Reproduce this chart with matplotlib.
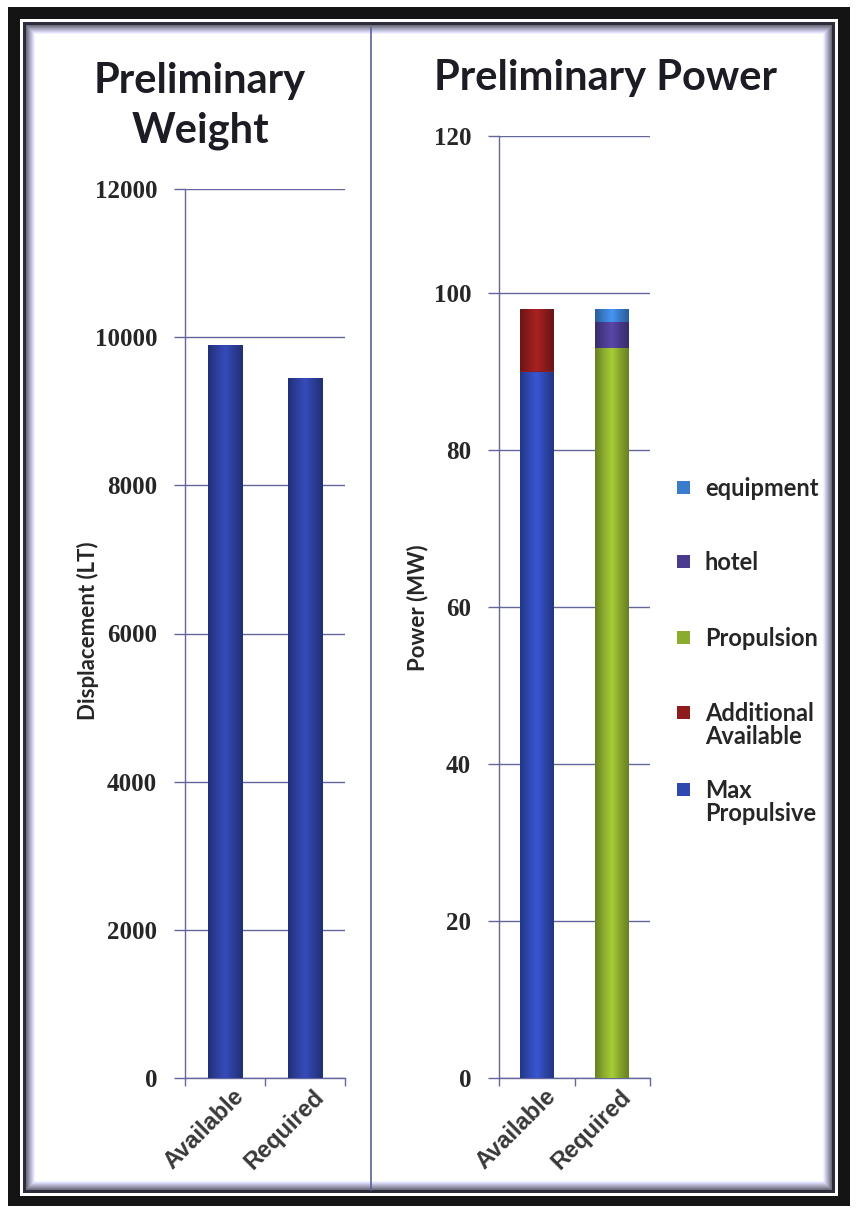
import matplotlib.pyplot as plt
import numpy as np
from matplotlib.colors import LinearSegmentedColormap, to_rgb
from matplotlib.patches import Rectangle
from matplotlib.transforms import ScaledTranslation

W, H = 856, 1211

categories = ["Available", "Required"]

# displacement (LT)
weight = [9890, 9450]

# power stack (MW), bottom to top
max_propulsive = [90.0, 0.0]
additional_available = [8.0, 0.0]
propulsion = [0.0, 93.0]
hotel = [0.0, 3.3]
equipment = [0.0, 1.7]

weight_ticks = [0, 2000, 4000, 6000, 8000, 10000, 12000]
power_ticks = [0, 20, 40, 60, 80, 100, 120]

C_WEIGHT = "#2d3f9c"
C_MAXPROP = "#2f48b0"
C_ADDL = "#8e1c1c"
C_PROP = "#8bab2e"
C_HOTEL = "#4b3b8e"
C_EQUIP = "#3a7ccc"
C_AXIS = "#62669a"
C_TEXT = "#262626"

TITLE_FONT = ["Lato", "DejaVu Sans"]
LABEL_FONT = ["Lato", "DejaVu Sans"]
CAT_FONT = ["Liberation Sans", "DejaVu Sans"]
TICK_FONT = ["Liberation Serif", "DejaVu Serif"]


def px_rect(x0, y0, x1, y1):
    return [x0 / W, 1 - y1 / H, (x1 - x0) / W, (y1 - y0) / H]


def fig_box(fig, x0, y0, x1, y1, **kw):
    fig.add_artist(Rectangle((x0 / W, 1 - y1 / H), (x1 - x0) / W, (y1 - y0) / H,
                             transform=fig.transFigure, **kw))


def shade(ax, bars, color):
    # horizontal cylinder-style gradient clipped to each bar
    base = np.array(to_rgb(color))
    cmap = LinearSegmentedColormap.from_list(
        "cyl", [base * 0.75, base * 1.0, np.minimum(base * 1.2, 1), base * 0.95, base * 0.75])
    grad = np.linspace(0, 1, 64).reshape(1, -1)
    for patch in bars:
        if patch.get_height() <= 0:
            continue
        x, y = patch.get_x(), patch.get_y()
        im = ax.imshow(grad, cmap=cmap, aspect="auto", zorder=patch.get_zorder() + 0.1,
                       extent=(x, x + patch.get_width(), y, y + patch.get_height()))
        im.set_clip_path(patch)


def style_axes(fig, ax, ticks):
    ax.patch.set_visible(False)
    ax.set_ylim(ticks[0], ticks[-1])
    ax.set_yticks(ticks)
    ax.set_yticklabels([str(t) for t in ticks], family=TICK_FONT, fontweight="bold",
                       fontsize=18, color=C_TEXT)
    ax.yaxis.grid(True, color=C_AXIS, linewidth=1.0)
    ax.set_axisbelow(True)
    ax.tick_params(axis="y", length=8, width=1.0, color=C_AXIS, pad=12)
    ax.set_xticks([0, 1])
    ax.set_xticks([-0.5, 0.5, 1.5], minor=True)
    ax.tick_params(axis="x", which="major", length=0, pad=5)
    ax.tick_params(axis="x", which="minor", length=6, width=1.0, color=C_AXIS)
    ax.set_xticklabels(categories, rotation=45, ha="right", va="top", rotation_mode="anchor",
                       family=CAT_FONT, fontweight="bold", fontsize=17, color="#383838")
    shift = ScaledTranslation(7 / 100, 0, fig.dpi_scale_trans)
    for lbl in ax.get_xticklabels():
        lbl.set_transform(lbl.get_transform() + shift)
    for side in ("top", "right"):
        ax.spines[side].set_visible(False)
    for side in ("left", "bottom"):
        ax.spines[side].set_color(C_AXIS)
        ax.spines[side].set_linewidth(1.0)
    ax.set_xlim(-0.5, 1.5)


fig = plt.figure(figsize=(W / 100, H / 100), dpi=100, facecolor="white")

# framed panel behind both charts
fig_box(fig, 8, 7, 850, 1206, facecolor="#141414", edgecolor="none", zorder=-5)
fig_box(fig, 20, 19, 838, 1196, facecolor="white", edgecolor="none", zorder=-5)
fig_box(fig, 23, 22, 835, 1193, facecolor="#2c2c3c", edgecolor="none", zorder=-5)
for i, level in enumerate(np.linspace(0.45, 1.0, 9)):
    c = (level * 0.95, level * 0.95, min(level * 1.08, 1.0))
    fig_box(fig, 26 + i, 25 + i, 832 - i, 1190 - i, facecolor=c, edgecolor="none", zorder=-5)
fig_box(fig, 35, 34, 823, 1181, facecolor="white", edgecolor="none", zorder=-5)
fig.add_artist(plt.Line2D([371 / W, 371 / W], [1 - 1190 / H, 1 - 28 / H],
                          transform=fig.transFigure, color="#5c6094", linewidth=1.2,
                          zorder=-4))

# weight chart
ax1 = fig.add_axes(px_rect(185, 189, 345, 1078))
bars = ax1.bar(range(len(categories)), weight, width=0.43, color=C_WEIGHT, zorder=3)
shade(ax1, bars, C_WEIGHT)
style_axes(fig, ax1, weight_ticks)
fig.text(88 / W, 1 - 631 / H, "Displacement (LT)", rotation=90, ha="center", va="center",
         family=LABEL_FONT, fontweight="bold", fontsize=16, color=C_TEXT)
fig.text(200 / W, 1 - 106 / H, "Preliminary\nWeight", ha="center", va="center",
         family=TITLE_FONT, fontweight="bold", fontsize=30, color="#1c1c24", linespacing=1.4)

# power chart
ax2 = fig.add_axes(px_rect(499, 136, 650, 1078))
x = np.arange(len(categories))
stack = [
    ("Max\nPropulsive", max_propulsive, C_MAXPROP),
    ("Additional\nAvailable", additional_available, C_ADDL),
    ("Propulsion", propulsion, C_PROP),
    ("hotel", hotel, C_HOTEL),
    ("equipment", equipment, C_EQUIP),
]
bottom = np.zeros(len(categories))
for label, vals, color in stack:
    b = ax2.bar(x, vals, width=0.45, bottom=bottom, color=color, label=label, zorder=3)
    shade(ax2, b, color)
    bottom += np.array(vals)
style_axes(fig, ax2, power_ticks)
fig.text(418 / W, 1 - 608 / H, "Power (MW)", rotation=90, ha="center", va="center",
         family=LABEL_FONT, fontweight="bold", fontsize=16, color=C_TEXT)
fig.text(605 / W, 1 - 78 / H, "Preliminary Power", ha="center", va="center",
         family=TITLE_FONT, fontweight="bold", fontsize=30, color="#1c1c24")

# legend, top entry first, swatch beside the first text line
legend_rows = [487, 561, 637, 712, 789]
for (label, _, color), y in zip(stack[::-1], legend_rows):
    fig_box(fig, 677, y - 6, 690, y + 7, facecolor=color, edgecolor="none")
    fig.text(705 / W, 1 - (y - 10) / H, label, ha="left", va="top", linespacing=1.0,
             family=LABEL_FONT, fontweight="bold", fontsize=17, color=C_TEXT)

fig.savefig("out.png", dpi=100, facecolor="white")
